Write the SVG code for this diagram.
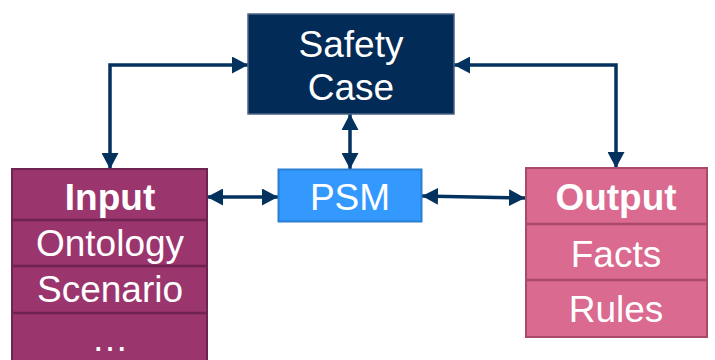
<svg xmlns="http://www.w3.org/2000/svg" width="715" height="360" viewBox="0 0 715 360">
  <style>
    text { font-family: "Liberation Sans", Arial, sans-serif; font-size: 37px; fill: #ffffff; text-anchor: middle; }
    .b { font-weight: bold; }
    .link { fill: none; stroke: #03325f; stroke-width: 3.5; marker-start: url(#arr); marker-end: url(#arr); }
  </style>
  <defs>
    <marker id="arr" markerUnits="userSpaceOnUse" markerWidth="17" markerHeight="17" refX="16" refY="8.5" orient="auto-start-reverse">
      <path d="M0,0 L16,8.5 L0,17 Z" fill="#03325f"/>
    </marker>
  </defs>

  <g id="connectors">
    <path class="link" d="M110,169 L110,65 L248,65"/>
    <path class="link" d="M616,168 L616,65 L454,65"/>
    <path class="link" d="M350,114 L350,169"/>
    <path class="link" d="M207,197 L278,197"/>
    <path class="link" d="M422,196 L525,198"/>
  </g>

  <g id="safety-case">
    <rect x="248" y="14" width="206" height="100" fill="#022b57" stroke="#4a6585" stroke-width="1.5"/>
    <text x="351" y="57">Safety</text>
    <text x="351" y="100">Case</text>
  </g>

  <g id="psm">
    <rect x="278.5" y="169.5" width="143" height="52" fill="#3399ff" stroke="#2b7fd2" stroke-width="2"/>
    <text x="350" y="210">PSM</text>
  </g>

  <g id="input">
    <rect x="12" y="169" width="195" height="200" fill="#9b356e" stroke="#6e2350" stroke-width="2"/>
    <line x1="12" y1="220" x2="207" y2="220" stroke="#6e2350" stroke-width="2.5"/>
    <line x1="12" y1="266" x2="207" y2="266" stroke="#6e2350" stroke-width="2.5"/>
    <line x1="12" y1="313" x2="207" y2="313" stroke="#6e2350" stroke-width="2.5"/>
    <text class="b" x="110" y="210">Input</text>
    <text x="110" y="256">Ontology</text>
    <text x="110" y="302">Scenario</text>
    <text x="110" y="351">…</text>
  </g>

  <g id="output">
    <rect x="526" y="168" width="181" height="169" fill="#da6a8f" stroke="#a94a6b" stroke-width="2"/>
    <line x1="526" y1="224" x2="707" y2="224" stroke="#a94a6b" stroke-width="2.5"/>
    <line x1="526" y1="280" x2="707" y2="280" stroke="#a94a6b" stroke-width="2.5"/>
    <text class="b" x="616" y="210">Output</text>
    <text x="616" y="267">Facts</text>
    <text x="616" y="322">Rules</text>
  </g>
</svg>
